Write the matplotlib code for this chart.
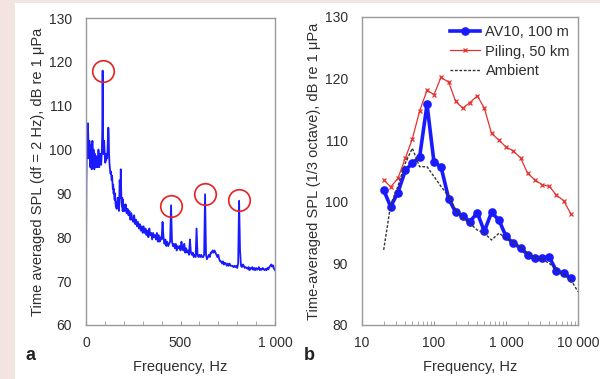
import numpy as np
import matplotlib
matplotlib.use("Agg")
import matplotlib.pyplot as plt
from matplotlib.patches import Rectangle

plt.rcParams['font.family'] = ['Liberation Sans', 'DejaVu Sans']

# ---------------- Panel a: narrow-band spectrum (df = 2 Hz) ----------------
# 0-200 Hz, 2 Hz spacing
spec_low_freq = np.arange(0, 202, 2)
spec_low_db = [
    71, 92, 100, 98, 104, 106, 103, 100, 98, 102,
    99, 96, 98, 101, 97, 95.5, 99, 102, 98, 96,
    100, 97, 95.5, 97, 99, 96, 97, 98.5, 96, 97,
    98, 96, 97, 100, 97, 96, 98, 97, 99, 97,
    96.5, 98, 100, 104, 118, 104, 99, 101, 102, 100,
    98, 97, 99, 97.5, 98, 99, 98, 100, 103, 105,
    104, 99, 97, 96, 95, 94.5, 95, 94, 93, 94,
    92.5, 91, 92, 90, 91, 89, 88.5, 90, 88, 87,
    88, 86.5, 88, 87, 89, 88, 87, 86, 88, 93,
    92, 89, 95.5, 91, 88, 87, 89, 86, 88.5, 86,
    87.5,
]
# 205-1000 Hz, 5 Hz spacing
spec_high_freq = np.arange(205, 1001, 5)
spec_high_db = [
    86, 87.5, 85.5, 86.5, 85, 86, 84, 85.5, 84, 83.5,          # 205-250
    85, 83, 84, 82.5, 83.5, 82, 83, 81.5, 82.5, 81,            # 255-300
    82.5, 81, 82, 80.5, 81.5, 80, 82, 80.5, 81, 79.5,          # 305-350
    81, 80, 80.5, 79.5, 81, 79, 80.5, 79, 80, 79.5,            # 355-400
    83.5, 80, 78.5, 79.5, 78, 79, 78, 78.5, 79, 87.3,          # 405-450
    79, 78, 78.5, 77.5, 78.5, 77, 78, 77.5, 78, 77,            # 455-500
    79, 77.5, 77, 78.5, 76.5, 77.5, 76.5, 77, 76, 79.5,        # 505-550
    76.5, 76, 76.5, 75.5, 76, 75.5, 82, 76, 75.5, 76,          # 555-600
    75.5, 76, 75.5, 75.5, 76, 89.8, 76, 75, 75.5, 76,          # 605-650
    75.5, 76.5, 76.5, 77, 76.5, 77, 76.5, 76, 75.5, 76,        # 655-700
    75, 74.5, 74.5, 74, 74.5, 73.8, 74.2, 74, 73.5, 74,        # 705-750
    73.5, 74, 73.5, 73.5, 73.5, 73.2, 73.5, 73.2, 73.5, 73,    # 755-800
    74, 88.3, 77, 73.5, 73.2, 73.8, 73.5, 73, 73.2, 73,        # 805-850
    72.8, 73.2, 72.5, 73, 72.8, 73.2, 72.6, 73, 72.5, 73,      # 855-900
    72.6, 72.8, 73.2, 72.5, 72.8, 72.6, 73, 72.7, 72.5, 72.8,  # 905-950
    72.5, 73, 72.7, 73.2, 73.5, 73.8, 73.3, 73.6, 72.8, 72.5,  # 955-1000
]
# circled tonal peaks
peak_freq = [88, 450, 630, 811]
peak_db = [118, 87.2, 89.9, 88.4]

# ---------------- Panel b: 1/3-octave spectra ----------------
third_oct_freq = [20, 25, 31.5, 40, 50, 63, 80, 100, 125, 160, 200, 250, 315, 400,
                  500, 630, 800, 1000, 1250, 1600, 2000, 2500, 3150, 4000, 5000,
                  6300, 8000]
av10_db = [101.9, 99.2, 101.5, 105.1, 106.3, 107.2, 115.8, 106.4, 105.7, 100.5,
           98.3, 97.7, 96.8, 98.2, 95.2, 98.3, 97.0, 94.4, 93.3, 92.5,
           91.4, 90.8, 90.9, 91.0, 88.8, 88.4, 87.6]
piling_db = [103.6, 102.4, 103.8, 107.1, 110.2, 114.7, 118.1, 117.4, 120.2, 119.4,
             116.3, 115.2, 116.1, 117.2, 115.2, 111.1, 110.0, 108.9, 108.3, 107.1,
             104.6, 103.6, 102.8, 102.5, 101.1, 100.2, 98.0]
ambient_freq = third_oct_freq + [10000]
ambient_db = [92.2, 99.5, 102.5, 106.3, 108.7, 105.7, 105.7, 104.1, 102.5, 100.9,
              98.7, 97.3, 96.5, 95.4, 94.9, 93.8, 94.9, 94.1, 93.4, 92.7,
              91.6, 91.1, 90.7, 90.0, 89.0, 88.1, 87.3, 85.4]

# ---------------- Figure ----------------
W, H = 600, 379
fig = plt.figure(figsize=(6.0, 3.79), dpi=100)
fig.patch.set_facecolor('#f3e4e1')
fig.patches.append(Rectangle((15 / W, 0), 1 - 15 / W, 1 - 3 / H,
                             transform=fig.transFigure, facecolor='white',
                             edgecolor='none', zorder=-10))

txt_col = '#2e2e2e'
spine_col = '#999999'
fs_tick = 10
fs_lab = 10.5

def style(ax):
    for s in ax.spines.values():
        s.set_color(spine_col)
        s.set_linewidth(1.0)
    ax.tick_params(axis='y', length=0, labelsize=fs_tick, labelcolor=txt_col, pad=10)
    ax.tick_params(axis='x', which='both', direction='in', length=3,
                   color=spine_col, labelsize=fs_tick, labelcolor=txt_col, pad=8)

# Panel a
axa = fig.add_axes([86 / W, 1 - 325 / H, (275 - 86) / W, (325 - 18) / H])
freq_a = np.concatenate([spec_low_freq, spec_high_freq])
db_a = np.concatenate([spec_low_db, spec_high_db])
axa.plot(freq_a, db_a, color='#1a1aff', lw=1.3)
axa.plot(peak_freq, peak_db, ls='none', marker='o', ms=15.5, mfc='none',
         mec='#e82020', mew=1.2)
axa.set_xlim(0, 1000)
axa.set_ylim(60, 130)
axa.set_xticks([0, 500, 1000])
axa.set_xticklabels(['0', '500', '1 000'])
axa.set_xticks(np.arange(100, 1000, 100), minor=True)
axa.set_yticks(np.arange(60, 131, 10))
style(axa)
axa.set_xlabel('Frequency, Hz', fontsize=fs_lab, color=txt_col, labelpad=7)
axa.set_ylabel('Time averaged SPL (df = 2 Hz), dB re 1 μPa', fontsize=fs_lab,
               color=txt_col, labelpad=3)

# Panel b
axb = fig.add_axes([362 / W, 1 - 325 / H, (578 - 362) / W, (325 - 17) / H])
axb.plot(third_oct_freq, av10_db, color='#1a1aff', lw=2.6, marker='o', ms=5.2,
         label='AV10, 100 m')
axb.plot(third_oct_freq, piling_db, color='#e83030', lw=0.9, marker='x', ms=3,
         mew=0.9, label='Piling, 50 km')
axb.plot(ambient_freq, ambient_db, color='#333333', lw=1.0, ls=(0, (2, 1.2)),
         label='Ambient')
axb.set_xscale('log')
axb.set_xlim(10, 10000)
axb.set_ylim(80, 130)
axb.set_xticks([10, 100, 1000, 10000])
axb.set_xticklabels(['10', '100', '1 000', '10 000'])
axb.set_yticks(np.arange(80, 131, 10))
style(axb)
axb.set_xlabel('Frequency, Hz', fontsize=fs_lab, color=txt_col, labelpad=7)
axb.set_ylabel('Time-averaged SPL (1/3 octave), dB re 1 μPa', fontsize=fs_lab,
               color=txt_col, labelpad=3)
leg = axb.legend(loc='upper right', frameon=False, fontsize=10.5,
                 handlelength=2.0, handletextpad=0.4, labelspacing=0.38,
                 borderaxespad=0.15)
for t in leg.get_texts():
    t.set_color(txt_col)

fig.text(25 / W, 1 - 356 / H, 'a', fontsize=13, fontweight='bold',
         color='#222222', ha='left', va='center')
fig.text(304 / W, 1 - 356 / H, 'b', fontsize=13, fontweight='bold',
         color='#222222', ha='left', va='center')

fig.savefig('out.png', dpi=100, facecolor=fig.get_facecolor())
